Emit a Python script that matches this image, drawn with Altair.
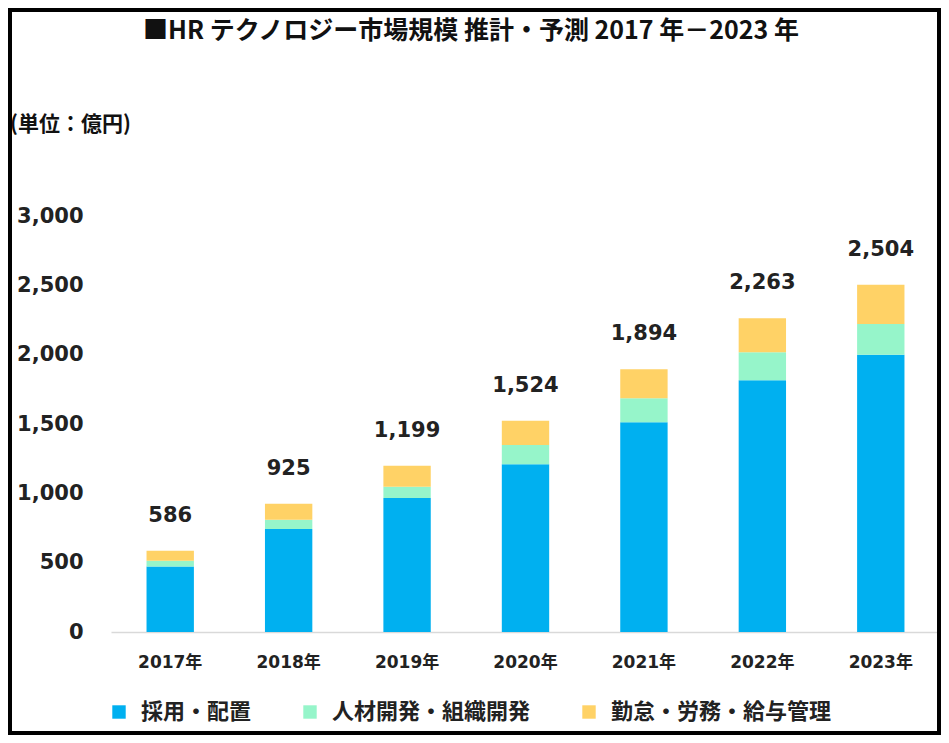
import altair as alt
import pandas as pd

years = ["2017年", "2018年", "2019年", "2020年", "2021年", "2022年", "2023年"]
series = ["採用・配置", "人材開発・組織開発", "勤怠・労務・給与管理"]
colors = ["#00B0F0", "#96F5CA", "#FFD266"]
recruit = [473, 743, 967, 1210, 1512, 1816, 2000]
develop = [40, 67, 80, 138, 174, 201, 222]
labor = [73, 115, 152, 176, 208, 246, 282]
totals = [586, 925, 1199, 1524, 1894, 2263, 2504]
y_ticks = [0, 500, 1000, 1500, 2000, 2500, 3000]

title_text = "■HR テクノロジー市場規模  推計・予測 2017 年－2023 年"
unit_text = "(単位：億円)"

rows = []
for i, y in enumerate(years):
    for k, (name, vals) in enumerate(zip(series, [recruit, develop, labor])):
        rows.append({"year": y, "series": name, "value": vals[i], "idx": k})
df = pd.DataFrame(rows)
tot_df = pd.DataFrame({"year": years, "total": totals})

W, H = 829, 416
PL, PT, PR, PB = 103, 208, 1, 103

num_font = "DejaVu Sans"
jp_font = "Noto Sans CJK JP"

x_enc = alt.X("year:N", sort=years, title=None,
              scale=alt.Scale(paddingInner=0.6, paddingOuter=0.3),
              axis=alt.Axis(labelAngle=0, ticks=False, domainColor="#D9D9D9",
                            domainWidth=1.5, labelFont=num_font + ", " + jp_font,
                            labelFontWeight="bold", labelFontSize=17,
                            labelColor="#222222", labelPadding=22))

bars = alt.Chart(df).mark_bar().encode(
    x=x_enc,
    y=alt.Y("value:Q", stack="zero", title=None,
            scale=alt.Scale(domain=[0, 3000], nice=False),
            axis=alt.Axis(values=y_ticks, format=",.0f", grid=False, domain=False,
                          ticks=False, labelFont=num_font, labelFontWeight="bold",
                          labelFontSize=21, labelColor="#222222", labelPadding=28)),
    color=alt.Color("series:N", scale=alt.Scale(domain=series, range=colors),
                    legend=alt.Legend(title=None, orient="none", legendX=-3, legendY=485,
                                      direction="horizontal", columns=3,
                                      symbolType="square", symbolSize=180,
                                      symbolStrokeWidth=0, labelFont=jp_font,
                                      labelFontWeight="bold", labelFontSize=22,
                                      labelColor="#222222", labelOffset=11,
                                      columnPadding=47, padding=0,
                                      labelLimit=400)),
    order=alt.Order("idx:Q", sort="ascending"),
)

labels = alt.Chart(tot_df).mark_text(
    font=num_font, fontWeight="bold", fontSize=21, dy=-35, color="#222222",
    baseline="middle"
).encode(
    x=alt.X("year:N", sort=years),
    y=alt.Y("total:Q"),
    text=alt.Text("total:Q", format=","),
)

title = alt.Chart(pd.DataFrame({"t": [title_text]})).mark_text(
    font=jp_font, fontWeight="bold", fontSize=25, color="#111111",
    align="center", baseline="middle"
).encode(text="t:N", x=alt.value(360), y=alt.value(-185))

unit = alt.Chart(pd.DataFrame({"t": [unit_text]})).mark_text(
    font=jp_font, fontWeight="bold", fontSize=21, color="#111111",
    align="left", baseline="middle"
).encode(text="t:N", x=alt.value(-101), y=alt.value(-91))

border = alt.Chart(pd.DataFrame({"a": [0]})).mark_rect(
    fill=None, stroke="black", strokeWidth=4
).encode(x=alt.value(-PL + 2), x2=alt.value(W + PR - 2),
         y=alt.value(-PT + 2), y2=alt.value(H + PB - 2))

chart = alt.layer(bars, labels, title, unit, border).properties(
    width=W, height=H,
    autosize=alt.AutoSizeParams(type="none"),
    padding={"left": PL, "top": PT, "right": PR, "bottom": PB},
).configure(background="white").configure_view(stroke=None)

chart.save("out.html", embed_options={"renderer": "svg", "actions": False})
